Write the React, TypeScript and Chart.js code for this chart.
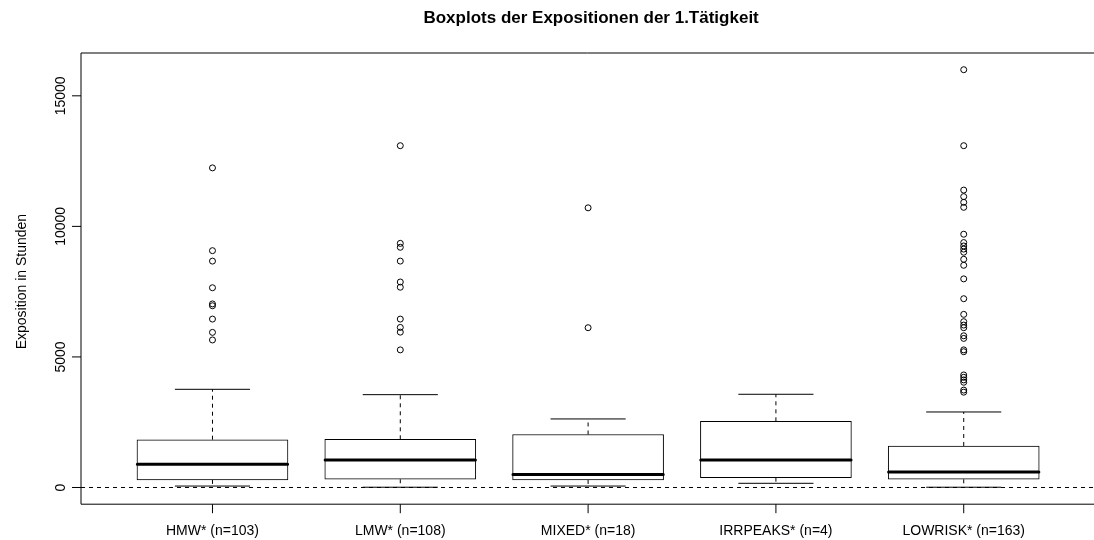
import { useEffect, useRef } from "react";
import { Chart, registerables } from "chart.js";

Chart.register(...registerables);

// Groups shown along the x axis
const categories = [
  "HMW* (n=103)",
  "LMW* (n=108)",
  "MIXED* (n=18)",
  "IRRPEAKS* (n=4)",
  "LOWRISK* (n=163)",
];

// Five-number summaries (hours)
const lowerWhisker = [55, 10, 55, 160, 10];
const q1 = [290, 315, 287, 375, 314];
const median = [890, 1055, 495, 1053, 594];
const q3 = [1830, 1846, 2030, 2535, 1590];
const upperWhisker = [3760, 3555, 2625, 3570, 2892];

// Outliers per group
const hmwOutliers = [12240, 9070, 8670, 7650, 7030, 6960, 6450, 5940, 5650];
const lmwOutliers = [13090, 9350, 9200, 8670, 7870, 7670, 6450, 6130, 5950, 5270];
const mixedOutliers = [10710, 6120];
const irrpeaksOutliers: number[] = [];
const lowriskOutliers = [
  16000, 13090, 11390, 11140, 10920, 10730, 9700, 9380, 9250, 9130, 9010, 8740,
  8510, 7990, 7230, 6630, 6350, 6220, 6120, 5810, 5710, 5270, 5200, 4310, 4220,
  4120, 4030, 3730, 3650,
];

const yTicks = [0, 5000, 10000, 15000];
const chartTitle = "Boxplots der Expositionen der 1.Tätigkeit";
const yAxisTitle = "Exposition in Stunden";

const FONT = '"Liberation Sans", Arial, Helvetica, sans-serif';

// Axes, frame and texts in the style of base R graphics
const rAxesPlugin = {
  id: "rAxes",
  afterDraw(chart: any) {
    const { ctx, chartArea, scales, width } = chart;
    const { left, top, bottom } = chartArea;
    const xs = scales.x;
    const ys = scales.y;
    ctx.save();
    ctx.strokeStyle = "#000";
    ctx.fillStyle = "#000";
    ctx.lineWidth = 1;
    ctx.setLineDash([]);

    // frame (top, left, bottom)
    ctx.beginPath();
    ctx.moveTo(width, top);
    ctx.lineTo(left, top);
    ctx.lineTo(left, bottom);
    ctx.lineTo(width, bottom);
    ctx.stroke();

    // y ticks + rotated labels
    ctx.font = `14px ${FONT}`;
    yTicks.forEach((v) => {
      const py = ys.getPixelForValue(v);
      ctx.beginPath();
      ctx.moveTo(left - 9, py);
      ctx.lineTo(left, py);
      ctx.stroke();
      ctx.save();
      ctx.translate(65, py);
      ctx.rotate(-Math.PI / 2);
      ctx.textAlign = "center";
      ctx.textBaseline = "alphabetic";
      ctx.fillText(String(v), 0, 0);
      ctx.restore();
    });

    // x ticks + labels
    categories.forEach((label, i) => {
      const px = xs.getPixelForValue(i + 1);
      ctx.beginPath();
      ctx.moveTo(px, bottom);
      ctx.lineTo(px, bottom + 9);
      ctx.stroke();
      ctx.textAlign = "center";
      ctx.textBaseline = "alphabetic";
      ctx.fillText(label, px, 535);
    });

    // y axis title
    ctx.save();
    ctx.translate(26, (top + bottom) / 2 + 3);
    ctx.rotate(-Math.PI / 2);
    ctx.textAlign = "center";
    ctx.textBaseline = "alphabetic";
    ctx.fillText(yAxisTitle, 0, 0);
    ctx.restore();

    // main title, centred over the full plot region
    ctx.font = `bold 17px ${FONT}`;
    ctx.textAlign = "center";
    ctx.textBaseline = "alphabetic";
    const cx = (xs.getPixelForValue(0.3) + xs.getPixelForValue(5.7)) / 2 + 3;
    ctx.fillText(chartTitle, cx, 23);

    ctx.restore();
  },
};

export default function App() {
  const ref = useRef<HTMLCanvasElement>(null);

  useEffect(() => {
    if (!ref.current) return;
    const pos = categories.map((_, i) => i + 1);
    const outlierGroups = [hmwOutliers, lmwOutliers, mixedOutliers, irrpeaksOutliers, lowriskOutliers];

    const boxes = pos.map((x, i) => ({ x, y: [q1[i], q3[i]] }));
    const medianSegs = pos.flatMap((x, i) => [
      { x: x - 0.4, y: median[i] },
      { x: x + 0.4, y: median[i] },
      { x: x + 0.45, y: null },
    ]);
    const whiskerSegs = pos.flatMap((x, i) => [
      { x, y: q3[i] },
      { x, y: upperWhisker[i] },
      { x, y: null },
      { x, y: q1[i] },
      { x, y: lowerWhisker[i] },
      { x, y: null },
    ]);
    const capSegs = pos.flatMap((x, i) => [
      { x: x - 0.2, y: upperWhisker[i] },
      { x: x + 0.2, y: upperWhisker[i] },
      { x: x + 0.25, y: null },
      { x: x - 0.2, y: lowerWhisker[i] },
      { x: x + 0.2, y: lowerWhisker[i] },
      { x: x + 0.25, y: null },
    ]);
    const outlierPts = pos.flatMap((x, i) => outlierGroups[i].map((v) => ({ x, y: v })));
    const zeroLine = [
      { x: 0.3, y: 0 },
      { x: 5.75, y: 0 },
    ];

    const chart = new Chart(ref.current, {
      type: "bar",
      data: {
        datasets: [
          {
            type: "line",
            data: zeroLine,
            borderColor: "#000",
            borderWidth: 1,
            borderDash: [4, 4],
            pointRadius: 0,
            fill: false,
            clip: false,
            order: 1,
          } as any,
          {
            type: "scatter",
            data: outlierPts,
            pointStyle: "circle",
            pointRadius: 3,
            borderColor: "#000",
            backgroundColor: "rgba(0,0,0,0)",
            borderWidth: 1,
            order: 2,
          } as any,
          {
            type: "line",
            data: medianSegs,
            borderColor: "#000",
            borderWidth: 3,
            borderCapStyle: "round",
            pointRadius: 0,
            spanGaps: false,
            fill: false,
            order: 3,
          } as any,
          {
            type: "line",
            data: capSegs,
            borderColor: "#000",
            borderWidth: 1,
            pointRadius: 0,
            spanGaps: false,
            fill: false,
            order: 4,
          } as any,
          {
            type: "line",
            data: whiskerSegs,
            borderColor: "#000",
            borderWidth: 1,
            borderDash: [4, 4],
            pointRadius: 0,
            spanGaps: false,
            fill: false,
            order: 5,
          } as any,
          {
            type: "bar",
            data: boxes,
            backgroundColor: "#fff",
            borderColor: "#000",
            borderWidth: 1,
            borderSkipped: false,
            barThickness: 151,
            order: 10,
          } as any,
        ],
      },
      options: {
        responsive: false,
        animation: false,
        events: [],
        layout: { padding: { left: 81, top: 53, right: 0, bottom: 35.8 } },
        plugins: {
          legend: { display: false },
          tooltip: { enabled: false },
          title: { display: false },
        },
        scales: {
          x: { type: "linear", min: 0.3, max: 5.667, display: false, offset: false },
          y: { type: "linear", min: -640, max: 16640, display: false },
        },
      } as any,
      plugins: [rAxesPlugin],
    });

    return () => chart.destroy();
  }, []);

  return (
    <div style={{ position: "fixed", left: 0, top: 0, width: 1094, height: 540, background: "#fff" }}>
      <canvas ref={ref} width={1094} height={540} style={{ display: "block" }} />
    </div>
  );
}
